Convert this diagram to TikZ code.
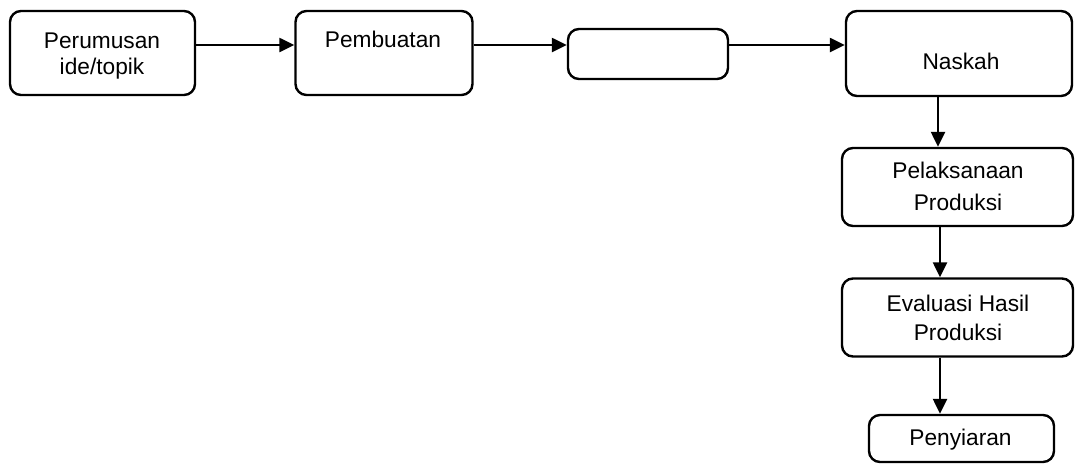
\documentclass[tikz,border=0pt]{standalone}
\usepackage{fontspec}
\setmainfont{Liberation Sans}
\usetikzlibrary{arrows.meta}
\begin{document}
\begin{tikzpicture}[x=1pt,y=-1pt,
  box/.style={draw=black, line width=2.4pt, rounded corners=11pt, minimum width=#1, inner sep=0pt},
  txt/.style={anchor=base, align=center, inner sep=0pt, font=\fontsize{22.7}{#1}\selectfont},
  arr/.style={line width=2.4pt, -{Triangle[length=15pt,width=14pt]}}]
\useasboundingbox (0,0) rectangle (1075,464);
% boxes
\node[box=185pt, minimum height=84pt] (b1) at (102.5,53) {};
\node[box=177pt, minimum height=84pt] (b2) at (384,53) {};
\node[box=160pt, minimum height=50pt] (b3) at (648,54) {};
\node[box=226pt, minimum height=85pt] (b4) at (959,53.5) {};
\node[box=231pt, minimum height=78pt] (b5) at (957.5,187) {};
\node[box=231pt, minimum height=78pt] (b6) at (957.5,317.5) {};
\node[box=185pt, minimum height=47pt] (b7) at (961.5,438.5) {};
% texts (base anchor = baseline of the last line)
\node[txt=26pt] (t1) at (102,74) {Perumusan\\ide/topik};
\node[txt=26pt] (t2) at (383,47) {Pembuatan};
\node[txt=26pt] (t4) at (961,69) {Naskah};
\node[txt=32pt] (t5) at (958,210) {Pelaksanaan\\Produksi};
\node[txt=29pt] (t6) at (958,340) {Evaluasi Hasil\\Produksi};
\node[txt=26pt] (t7) at (960.5,445) {Penyiaran};
% connectors
\coordinate (h) at (0,45);
\coordinate (v1) at (938,0);
\coordinate (v2) at (940,0);
\draw[arr] (b1.east |- h) -- (b2.west |- h);
\draw[arr] (b2.east |- h) -- (b3.west |- h);
\draw[arr] (b3.east |- h) -- (b4.west |- h);
\draw[arr] (b4.south -| v1) -- (b5.north -| v1);
\draw[arr] (b5.south -| v2) -- (b6.north -| v2);
\draw[arr] (b6.south -| v2) -- (b7.north -| v2);
\end{tikzpicture}
\end{document}
